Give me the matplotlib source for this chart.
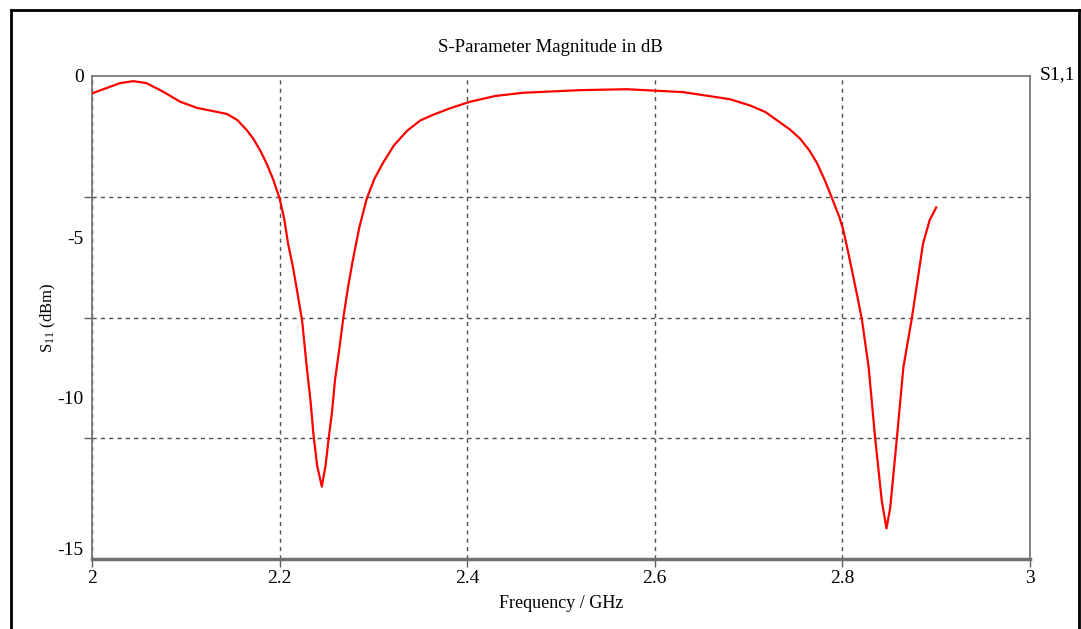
import matplotlib
matplotlib.use("Agg")
import matplotlib.pyplot as plt
from matplotlib.lines import Line2D

plt.rcParams['font.family'] = ['Liberation Serif', 'DejaVu Serif']
plt.rcParams['mathtext.fontset'] = 'custom'
plt.rcParams['mathtext.rm'] = 'Liberation Serif'
plt.rcParams['mathtext.it'] = 'Liberation Serif:italic'

# S11 magnitude sweep (GHz, dB)
freq_ghz = [
    2.000, 2.015, 2.030, 2.044, 2.058, 2.076, 2.094, 2.112, 2.129, 2.144,
    2.155, 2.165, 2.172, 2.180, 2.186, 2.193, 2.200, 2.205, 2.209, 2.214,
    2.218, 2.224, 2.229, 2.233, 2.236, 2.240, 2.245, 2.249, 2.252, 2.256,
    2.259, 2.264, 2.268, 2.273, 2.278, 2.285, 2.293, 2.301, 2.310, 2.322,
    2.336, 2.350, 2.364, 2.382, 2.403, 2.430, 2.460, 2.520, 2.570, 2.630,
    2.680, 2.702, 2.718, 2.730, 2.744, 2.755, 2.765, 2.773, 2.781, 2.789,
    2.797, 2.801, 2.806, 2.811, 2.816, 2.821, 2.828, 2.835, 2.842, 2.847,
    2.851, 2.858, 2.865, 2.874, 2.879, 2.886, 2.893, 2.900,
]
s11_db = [
    -0.54, -0.38, -0.22, -0.16, -0.22, -0.49, -0.80, -0.99, -1.09, -1.18,
    -1.37, -1.68, -1.95, -2.35, -2.71, -3.20, -3.80, -4.45, -5.20, -5.90,
    -6.56, -7.60, -9.05, -10.10, -11.10, -12.10, -12.75, -12.10, -11.33, -10.40,
    -9.46, -8.40, -7.50, -6.55, -5.73, -4.70, -3.80, -3.20, -2.71, -2.15,
    -1.70, -1.38, -1.20, -1.00, -0.80, -0.62, -0.52, -0.44, -0.41, -0.50,
    -0.72, -0.92, -1.12, -1.37, -1.66, -1.95, -2.32, -2.71, -3.22, -3.80,
    -4.40, -4.79, -5.45, -6.15, -6.85, -7.60, -9.05, -11.27, -13.20, -14.05,
    -13.40, -11.27, -9.05, -7.53, -6.56, -5.20, -4.48, -4.08,
]

x_ticks = [2.0, 2.2, 2.4, 2.6, 2.8, 3.0]
x_tick_labels = ['2', '2.2', '2.4', '2.6', '2.8', '3']
y_ticks = [0, -5, -10, -15]
y_tick_labels = ['0', '-5', '-10', '-15']
y_grid = [0, -3.75, -7.5, -11.25, -15]

W, H = 1081, 629
fig = plt.figure(figsize=(W / 100, H / 100), dpi=100)
ax = fig.add_axes([92 / W, 1 - 559 / H, (1030 - 92) / W, (559 - 76) / H])

ax.plot(freq_ghz, s11_db, color='#ff0000', lw=1.6, zorder=3)

ax.set_xlim(2.0, 3.0)
ax.set_ylim(-15, 0)

ax.set_xticks(x_ticks)
ax.set_xticklabels(x_tick_labels, fontsize=14)
ax.set_yticks(y_ticks)
ax.set_yticklabels(y_tick_labels, fontsize=14)
ax.set_yticks(y_grid, minor=True)

ax.tick_params(axis='y', which='major', length=0, pad=6)
ax.tick_params(axis='y', which='minor', length=6, width=1, color='#606060')
ax.tick_params(axis='x', which='major', length=6, width=1, color='#606060', pad=2)

# keep the bottom label clear of the x axis
ax.get_yticklabels()[-1].set_va('bottom')

ax.grid(True, axis='y', which='minor', ls=(0, (3, 3)), color='#505050', lw=1)
ax.grid(True, axis='x', which='major', ls=(0, (3, 3)), color='#505050', lw=1)
ax.set_axisbelow(True)

for side in ('left', 'top', 'right'):
    ax.spines[side].set_color('#707070')
    ax.spines[side].set_linewidth(1.2)
ax.spines['bottom'].set_color('#707070')
ax.spines['bottom'].set_linewidth(2.5)

ax.set_xlabel('Frequency / GHz', fontsize=13, labelpad=6)
ax.set_ylabel(r'S$_{11}$ (dBm)', fontsize=12)
ax.yaxis.set_label_coords(-0.036, 0.5)

fig.text((437 + 664) / 2 / W, 1 - 48 / H, 'S-Parameter Magnitude in dB',
         ha='center', va='center', fontsize=13.5)
fig.text(1040 / W, 1 - 75 / H, 'S1,1', ha='left', va='center', fontsize=14)

# outer frame (open at the bottom)
frame_kw = dict(color='black', lw=2, transform=fig.transFigure)
fig.add_artist(Line2D([10.5 / W, 10.5 / W], [0, 1 - 10 / H], **frame_kw))
fig.add_artist(Line2D([10.5 / W, 1079 / W], [1 - 10 / H, 1 - 10 / H], **frame_kw))
fig.add_artist(Line2D([1079 / W, 1079 / W], [0, 1 - 10 / H], **frame_kw))

fig.savefig('out.png', dpi=100)
